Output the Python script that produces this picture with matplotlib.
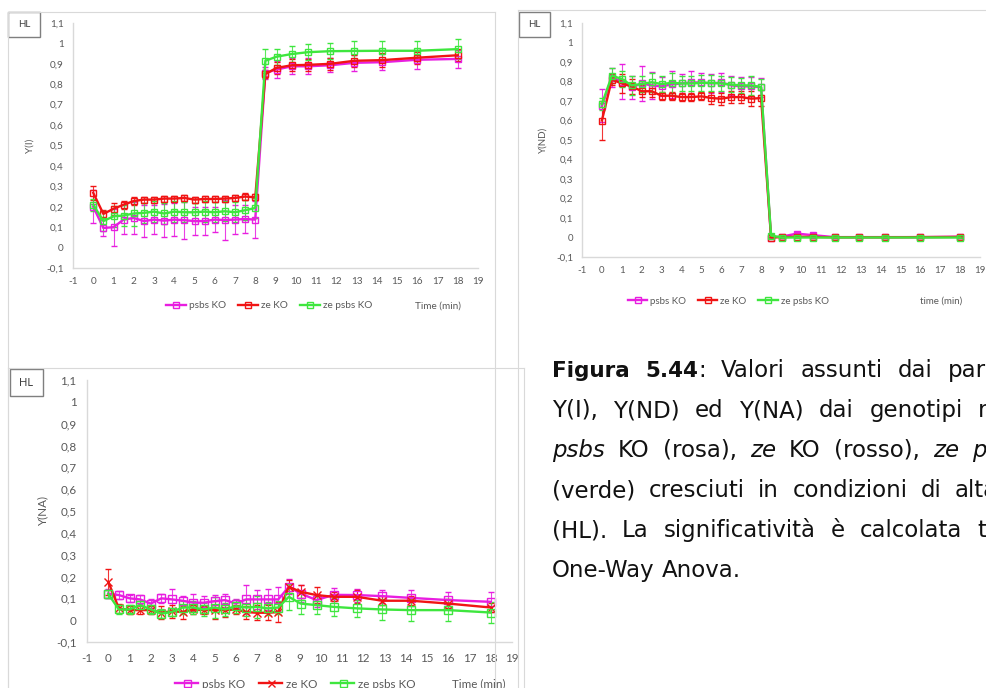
import matplotlib
matplotlib.use("Agg")
import matplotlib.pyplot as plt
from matplotlib.lines import Line2D
from matplotlib.patches import Rectangle
from matplotlib.ticker import FixedLocator, FuncFormatter

plt.rcParams['axes.unicode_minus'] = False

W, H = 987, 688
fig = plt.figure(figsize=(W / 100, H / 100), dpi=100)

AX_FONT = ['Lato', 'DejaVu Sans']
TEXT_GREY = '#595959'
FRAME_GREY = '#d9d9d9'

# ---- data -------------------------------------------------------------
time_min = [0, 0.5, 1, 1.5, 2, 2.5, 3, 3.5, 4, 4.5, 5, 5.5, 6, 6.5, 7, 7.5, 8,
            8.5, 9.05, 9.8, 10.6, 11.7, 12.9, 14.25, 16, 18]
series_labels = ['psbs KO', 'ze KO', 'ze psbs KO']
series_colors = ['#e81ee0', '#f01414', '#3ee63e']
x_ticks = list(range(-1, 20))
y_ticks = [-0.1, 0, 0.1, 0.2, 0.3, 0.4, 0.5, 0.6, 0.7, 0.8, 0.9, 1.0, 1.1]

# Y(I)
yi_psbs = [0.20, 0.096, 0.10, 0.137, 0.145, 0.13, 0.137, 0.132, 0.137, 0.134, 0.13, 0.13, 0.137,
           0.135, 0.137, 0.14, 0.137, 0.855, 0.872, 0.888, 0.888, 0.893, 0.905, 0.908, 0.92, 0.924]
yi_ze = [0.268, 0.165, 0.19, 0.21, 0.228, 0.235, 0.235, 0.24, 0.24, 0.243, 0.235, 0.238, 0.238,
         0.24, 0.243, 0.25, 0.246, 0.85, 0.88, 0.893, 0.895, 0.90, 0.915, 0.918, 0.93, 0.942]
yi_zepsbs = [0.21, 0.13, 0.153, 0.157, 0.167, 0.17, 0.176, 0.167, 0.176, 0.173, 0.173, 0.176, 0.173,
             0.178, 0.173, 0.183, 0.194, 0.915, 0.935, 0.948, 0.957, 0.962, 0.963, 0.964, 0.964, 0.972]
yi_psbs_err = [0.08, 0.04, 0.09, 0.07, 0.08, 0.08, 0.07, 0.08, 0.08, 0.09, 0.07, 0.07, 0.06,
               0.10, 0.07, 0.07, 0.09, 0.03, 0.04, 0.04, 0.04, 0.035, 0.04, 0.04, 0.045, 0.045]
yi_ze_err = [0.035, 0.02, 0.03, 0.02, 0.02, 0.015, 0.015, 0.015, 0.015, 0.015, 0.015, 0.015, 0.015,
             0.015, 0.015, 0.015, 0.015, 0.02, 0.03, 0.03, 0.03, 0.03, 0.03, 0.035, 0.03, 0.03]
yi_zepsbs_err = [0.03, 0.05, 0.05, 0.05, 0.06, 0.05, 0.05, 0.05, 0.05, 0.05, 0.045, 0.05, 0.05,
                 0.05, 0.05, 0.05, 0.05, 0.06, 0.04, 0.04, 0.04, 0.04, 0.05, 0.05, 0.05, 0.05]

# Y(ND)
ynd_psbs = [0.675, 0.82, 0.80, 0.77, 0.79, 0.78, 0.775, 0.785, 0.79, 0.795, 0.795, 0.79, 0.795,
            0.78, 0.775, 0.775, 0.77, 0.0, 0.005, 0.02, 0.012, 0.002, 0.002, 0.002, 0.002, 0.004]
ynd_ze = [0.60, 0.81, 0.79, 0.775, 0.75, 0.75, 0.727, 0.727, 0.72, 0.72, 0.724, 0.715, 0.712,
          0.72, 0.72, 0.712, 0.715, 0.0, 0.002, 0.004, 0.003, 0.001, 0.001, 0.001, 0.002, 0.003]
ynd_zepsbs = [0.684, 0.83, 0.813, 0.78, 0.787, 0.796, 0.787, 0.793, 0.79, 0.79, 0.793, 0.793, 0.79,
              0.784, 0.78, 0.78, 0.772, 0.01, 0.0, 0.0, 0.0, 0.0, 0.0, 0.0, 0.0, 0.0]
ynd_psbs_err = [0.085, 0.05, 0.09, 0.06, 0.09, 0.07, 0.05, 0.07, 0.05, 0.06, 0.05, 0.05, 0.05,
                0.05, 0.05, 0.05, 0.05, 0.005, 0.01, 0.01, 0.01, 0.005, 0.005, 0.005, 0.005, 0.005]
ynd_ze_err = [0.10, 0.03, 0.05, 0.04, 0.03, 0.03, 0.02, 0.02, 0.02, 0.02, 0.02, 0.03, 0.03,
              0.03, 0.03, 0.04, 0.04, 0.003, 0.003, 0.003, 0.003, 0.003, 0.003, 0.003, 0.003, 0.003]
ynd_zepsbs_err = [0.03, 0.04, 0.04, 0.05, 0.04, 0.05, 0.04, 0.05, 0.04, 0.04, 0.04, 0.04, 0.04,
                  0.04, 0.04, 0.05, 0.04, 0.01, 0.003, 0.003, 0.003, 0.003, 0.003, 0.003, 0.003, 0.003]

# Y(NA)
yna_psbs = [0.122, 0.115, 0.10, 0.095, 0.076, 0.10, 0.095, 0.089, 0.08, 0.08, 0.087, 0.092, 0.076,
            0.095, 0.095, 0.095, 0.095, 0.153, 0.122, 0.092, 0.116, 0.115, 0.11, 0.102, 0.092, 0.084]
yna_ze = [0.176, 0.054, 0.046, 0.046, 0.046, 0.034, 0.041, 0.037, 0.049, 0.046, 0.046, 0.046, 0.049,
          0.037, 0.034, 0.034, 0.037, 0.153, 0.13, 0.115, 0.107, 0.107, 0.089, 0.089, 0.076, 0.058]
yna_zepsbs = [0.12, 0.049, 0.049, 0.069, 0.049, 0.03, 0.038, 0.058, 0.058, 0.049, 0.058, 0.049, 0.064,
              0.058, 0.061, 0.054, 0.058, 0.107, 0.076, 0.069, 0.061, 0.054, 0.049, 0.046, 0.046, 0.035]
yna_psbs_err = [0.02, 0.02, 0.015, 0.02, 0.02, 0.02, 0.05, 0.02, 0.04, 0.03, 0.03, 0.03, 0.02,
                0.065, 0.045, 0.05, 0.055, 0.035, 0.04, 0.03, 0.03, 0.03, 0.03, 0.035, 0.035, 0.045]
yna_ze_err = [0.06, 0.02, 0.02, 0.02, 0.02, 0.03, 0.03, 0.03, 0.02, 0.02, 0.04, 0.03, 0.02,
              0.03, 0.035, 0.035, 0.045, 0.03, 0.03, 0.035, 0.02, 0.03, 0.02, 0.02, 0.02, 0.02]
yna_zepsbs_err = [0.02, 0.02, 0.02, 0.02, 0.02, 0.02, 0.02, 0.03, 0.03, 0.03, 0.05, 0.03, 0.03,
                  0.04, 0.05, 0.03, 0.03, 0.06, 0.05, 0.04, 0.04, 0.04, 0.05, 0.05, 0.05, 0.05]


# ---- helpers ----------------------------------------------------------
def fx(px):
    return px / W


def fy(py):
    return 1 - py / H


def comma_fmt(v, _pos=None):
    v = round(v, 1)
    if abs(v - round(v)) < 1e-9:
        return str(int(round(v)))
    return f"{v:.1f}".replace('.', ',')


def frame_lines(x0, y0, x1=None, y1=None):
    fig.add_artist(Line2D([fx(x0), fx(x1 if x1 else W)], [fy(y0), fy(y0)],
                          color=FRAME_GREY, lw=0.8))
    fig.add_artist(Line2D([fx(x0), fx(x0)], [fy(y0), fy(y1 if y1 else H)],
                          color=FRAME_GREY, lw=0.8))
    if x1:
        fig.add_artist(Line2D([fx(x1), fx(x1)], [fy(y0), fy(y1 if y1 else H)],
                              color=FRAME_GREY, lw=0.8))


def hl_box(x0, y0, x1, y1, size):
    fig.add_artist(Rectangle((fx(x0), fy(y1)), fx(x1) - fx(x0), fy(y0) - fy(y1),
                             transform=fig.transFigure, fill=True, facecolor='white',
                             edgecolor='#7f7f7f', lw=1.0))
    fig.text(fx((x0 + x1) / 2), fy((y0 + y1) / 2), 'HL', ha='center', va='center',
             fontsize=size, color='#404040', family=AX_FONT)


def panel(box, series, errors, markers, ylabel, ylab_x, fs, ms, leg_x, leg_y, tlabel, tlab_x):
    l, t, r, b = box
    ax = fig.add_axes([fx(l), fy(b), fx(r) - fx(l), fy(t) - fy(b)])
    handles = []
    for vals, err, col, mk in zip(series, errors, series_colors, markers):
        cont = ax.errorbar(time_min, vals, yerr=err, color=col, lw=1.7, marker=mk,
                           mfc='none', mec=col, ms=ms, mew=1.0,
                           elinewidth=0.8, capsize=2.2, capthick=0.8, zorder=3)
        for bar in cont[2]:
            bar.set_alpha(0.85)
        handles.append(Line2D([], [], color=col, lw=1.7, marker=mk, mfc='none',
                              mec=col, ms=ms * 0.9, mew=1.0))
    ax.set_xlim(-1, 19)
    ax.set_ylim(-0.1, 1.1)
    ax.xaxis.set_major_locator(FixedLocator(x_ticks))
    ax.yaxis.set_major_locator(FixedLocator(y_ticks))
    ax.yaxis.set_major_formatter(FuncFormatter(comma_fmt))
    ax.tick_params(length=0, labelsize=fs, colors=TEXT_GREY, pad=fs * 0.9)
    for lab in ax.get_xticklabels() + ax.get_yticklabels():
        lab.set_family(AX_FONT)
    for side in ('top', 'right'):
        ax.spines[side].set_visible(False)
    for side in ('left', 'bottom'):
        ax.spines[side].set_color(FRAME_GREY)
        ax.spines[side].set_linewidth(1.0)
    ax.patch.set_alpha(0)
    fig.text(fx(ylab_x), fy((t + b) / 2), ylabel, rotation=90, ha='center', va='center',
             fontsize=fs, color=TEXT_GREY, family=AX_FONT)
    fig.legend(handles, series_labels, loc='center left',
               bbox_to_anchor=(fx(leg_x), fy(leg_y)), ncol=3, frameon=False,
               handlelength=2.0, handletextpad=0.3, columnspacing=1.2,
               borderpad=0, borderaxespad=0,
               prop={'family': AX_FONT, 'size': fs}, labelcolor=TEXT_GREY)
    fig.text(fx(tlab_x), fy(leg_y), tlabel, ha='left', va='center', fontsize=fs,
             color=TEXT_GREY, family=AX_FONT)
    return ax


# ---- chart frames --------------------------------------------------------
frame_lines(8, 12, 495, None)
frame_lines(518, 10, None, None)
frame_lines(8, 368, 524, None)

# ---- panels -------------------------------------------------------------
panel((73, 23, 478, 268),
      [yi_psbs, yi_ze, yi_zepsbs], [yi_psbs_err, yi_ze_err, yi_zepsbs_err],
      ['s', 's', 's'], 'Y(I)', 30, 7.2, 5.0, 166, 306, 'Time (min)', 415)
panel((582, 23, 980, 257),
      [ynd_psbs, ynd_ze, ynd_zepsbs], [ynd_psbs_err, ynd_ze_err, ynd_zepsbs_err],
      ['s', 's', 's'], 'Y(ND)', 543, 7.0, 5.0, 628, 301, 'time (min)', 920)
panel((87, 380, 512, 642),
      [yna_psbs, yna_ze, yna_zepsbs], [yna_psbs_err, yna_ze_err, yna_zepsbs_err],
      ['s', 'x', 's'], 'Y(NA)', 43, 8.4, 5.6, 175, 684, 'Time (min)', 452)

hl_box(8, 12, 40, 37, 7)
hl_box(519, 12, 550, 37, 7)
hl_box(10, 369, 43, 396, 8)

# ---- caption (justified lines, clipped by the page edge) ----------------
CAP_SIZE = 16.5
CAP_BOLD_SIZE = 15.5
CAP_FONT = ['DejaVu Sans']
cap_left = 552
cap_base = 377
cap_step = 40

N, B, I = ('normal', 'normal'), ('bold', 'normal'), ('normal', 'italic')

# each word is a list of (text, (weight, style)) runs; second item is where the
# last word of the line starts (None for the final, unjustified line)
caption_lines = [
    ([[('Figura', B)], [('5.44', B), (':', N)], [('Valori', N)], [('assunti', N)],
      [('dai', N)], [('parametri', N)]], 948),
    ([[('Y(I),', N)], [('Y(ND)', N)], [('ed', N)], [('Y(NA)', N)], [('dai', N)],
      [('genotipi', N)], [('mutanti', N)]], 978),
    ([[('psbs', I)], [('KO', N)], [('(rosa),', N)], [('ze', I)], [('KO', N)],
      [('(rosso),', N)], [('ze', I)], [('psbs', I)]], 972),
    ([[('(verde)', N)], [('cresciuti', N)], [('in', N)], [('condizioni', N)],
      [('di', N)], [('alta', N)]], 955),
    ([[('(HL).', N)], [('La', N)], [('significatività', N)], [('è', N)],
      [('calcolata', N)], [('tramite', N)]], 977),
    ([[('One-Way', N)], [('Anova.', N)]], None),
]

renderer = fig.canvas.get_renderer()


def run_width(txt, ws):
    weight, style = ws
    size = CAP_BOLD_SIZE if weight == 'bold' else CAP_SIZE
    t = fig.text(0, 0, txt, fontsize=size, weight=weight, style=style, family=CAP_FONT)
    w = t.get_window_extent(renderer).width
    t.remove()
    return w


space_w = run_width('a a', N) - run_width('aa', N)

for i, (words, last_x) in enumerate(caption_lines):
    base = cap_base + i * cap_step
    widths = [sum(run_width(txt, ws) for txt, ws in w) for w in words]
    if last_x is None:
        gap = space_w
    else:
        gap = (last_x - cap_left - sum(widths[:-1])) / (len(words) - 1)
    x = cap_left
    for w, wd in zip(words, widths):
        xr = x
        for txt, ws in w:
            weight, style = ws
            size = CAP_BOLD_SIZE if weight == 'bold' else CAP_SIZE
            fig.text(fx(xr), fy(base), txt, fontsize=size, weight=weight, style=style,
                     family=CAP_FONT, color='#111111', ha='left', va='baseline')
            xr += run_width(txt, ws)
        x += wd + gap

fig.savefig('out.png', dpi=100, facecolor='white')
